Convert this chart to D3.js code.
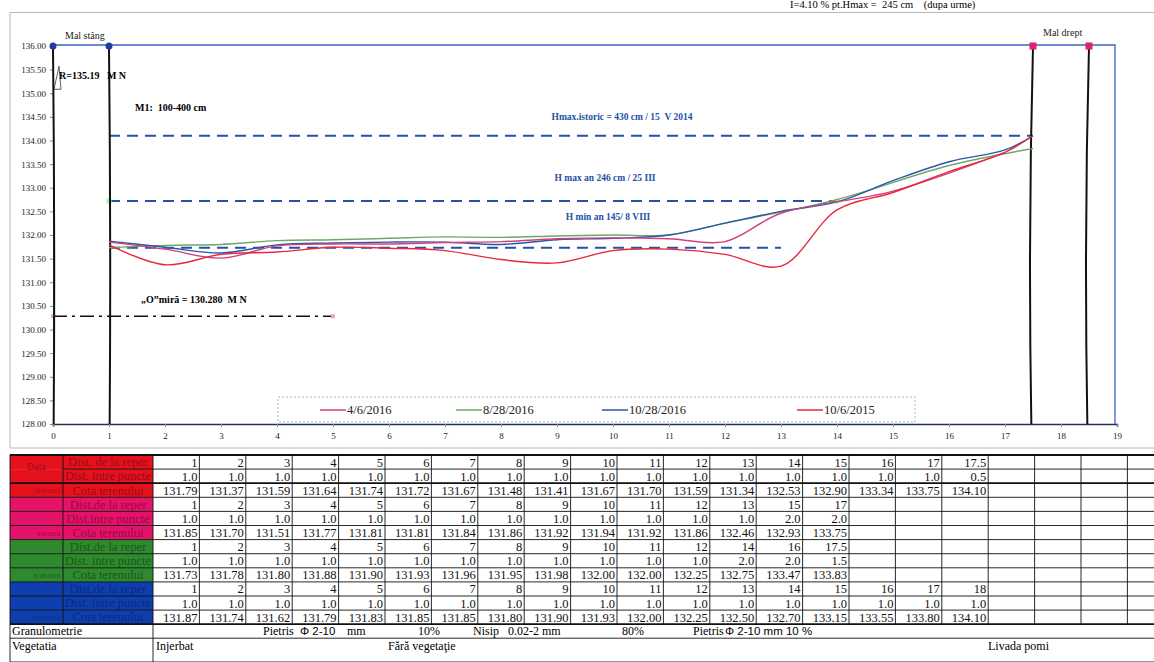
<!DOCTYPE html>
<html>
<head>
<meta charset="utf-8">
<script src="https://cdn.jsdelivr.net/npm/d3@7"></script>
<style>
body { margin: 0; background: #fff; }
svg { display: block; }
svg text { font-family: "Liberation Serif", "Times New Roman", serif; }
svg text.sans { font-family: "Liberation Sans", Arial, sans-serif; }
</style>
</head>
<body>
<svg id="chart" width="1154" height="662" font-family="Liberation Serif"></svg>
<script>
// ---- values read from the scanned profile ----
const dates = ["10/6/2015", "4/6/2016", "8/28/2016", "10/28/2016"];

const dist2015 = [1, 2, 3, 4, 5, 6, 7, 8, 9, 10, 11, 12, 13, 14, 15, 16, 17, 17.5];
const step2015 = [1.0, 1.0, 1.0, 1.0, 1.0, 1.0, 1.0, 1.0, 1.0, 1.0, 1.0, 1.0, 1.0, 1.0, 1.0, 1.0, 1.0, 0.5];
const cota2015 = [131.79, 131.37, 131.59, 131.64, 131.74, 131.72, 131.67, 131.48, 131.41, 131.67, 131.70, 131.59, 131.34, 132.53, 132.90, 133.34, 133.75, 134.10];

const distApr2016 = [1, 2, 3, 4, 5, 6, 7, 8, 9, 10, 11, 12, 13, 15, 17];
const stepApr2016 = [1.0, 1.0, 1.0, 1.0, 1.0, 1.0, 1.0, 1.0, 1.0, 1.0, 1.0, 1.0, 1.0, 2.0, 2.0];
const cotaApr2016 = [131.85, 131.70, 131.51, 131.77, 131.81, 131.81, 131.84, 131.86, 131.92, 131.94, 131.92, 131.86, 132.46, 132.93, 133.75];

const distAug2016 = [1, 2, 3, 4, 5, 6, 7, 8, 9, 10, 11, 12, 14, 16, 17.5];
const stepAug2016 = [1.0, 1.0, 1.0, 1.0, 1.0, 1.0, 1.0, 1.0, 1.0, 1.0, 1.0, 1.0, 2.0, 2.0, 1.5];
const cotaAug2016 = [131.73, 131.78, 131.80, 131.88, 131.90, 131.93, 131.96, 131.95, 131.98, 132.00, 132.00, 132.25, 132.75, 133.47, 133.83];

const distOct2016 = [1, 2, 3, 4, 5, 6, 7, 8, 9, 10, 11, 12, 13, 14, 15, 16, 17, 18];
const stepOct2016 = [1.0, 1.0, 1.0, 1.0, 1.0, 1.0, 1.0, 1.0, 1.0, 1.0, 1.0, 1.0, 1.0, 1.0, 1.0, 1.0, 1.0, 1.0];
const cotaOct2016 = [131.87, 131.74, 131.62, 131.79, 131.83, 131.85, 131.85, 131.80, 131.90, 131.93, 132.00, 132.25, 132.50, 132.70, 133.15, 133.55, 133.80, 134.10];

const bankLeft = [0, 1];
const bankRight = [17.5, 18.5];
const bankTop = 136;

// reference water levels: [label, level, from, to]
const levels = [
    ["Hmax.istoric = 430 cm / 15  V 2014", 134.10, 1, 17.5],
    ["H max an 246 cm / 25 III", 132.72, 1, 14],
    ["H min an 145/ 8 VIII", 131.73, 1, 13]
];
const zeroMira = 130.28;
const reperR = 135.19;

const xTickValues = d3.range(0, 20);
const yTickValues = d3.range(128, 136.01, 0.5);

const rowLabels = [
    ["Dist. de la reper", "Dist. intre puncte", "Cota terenului"],
    ["Dist.de la reper", "Dist.intre puncte", "Cota terenului"],
    ["Dist.de la reper", "Dist. intre puncte", "Cota terenului"],
    ["Dist.de la reper", "Dist. intre puncte", "Cota terenului"]
];

// ---- styles ----
const lineColor = {
    "10/6/2015": "#e8283c",
    "4/6/2016": "#d4407e",
    "8/28/2016": "#6fa865",
    "10/28/2016": "#2a58a8"
};
const cellFill = ["#e5121e", "#e5126a", "#2e8a2e", "#0f3fae"];
const cellText = ["#9c0a16", "#9a0846", "#1a581a", "#0a2a80"];

const svg = d3.select("#chart");
svg.append("rect").attr("width", 1154).attr("height", 662).attr("fill", "#fff");

const x = d3.scaleLinear().domain([0, 19]).range([53, 1117]);
const y = d3.scaleLinear().domain([128, 136]).range([424, 46]);

// outer frame of the chart object
svg.append("path")
    .attr("d", "M10,12.5H1154M10,12.5V448H1154")
    .attr("fill", "none").attr("stroke", "#b8b8b8").attr("stroke-width", 1);

svg.append("text")
    .attr("x", 790).attr("y", 8)
    .attr("font-size", 10.5)
    .attr("xml:space", "preserve")
    .text("I=4.10 % pt.Hmax =  245 cm    (dupa urme)");

// plot frame
svg.append("path")
    .attr("d", `M${x(0)},${y(136) - 1}H${x(19) - 2}V${y(128)}`)
    .attr("fill", "none").attr("stroke", "#3a66c4").attr("stroke-width", 1.3);

// axes
const yAxis = svg.append("g")
    .attr("transform", `translate(${x(0)},0)`)
    .call(d3.axisLeft(y).tickValues(yTickValues).tickFormat(d3.format(".2f")).tickSize(3));
yAxis.attr("font-family", null);
yAxis.select(".domain").attr("stroke", "#3a66c4");
yAxis.selectAll("text").attr("font-size", 9).attr("fill", "#222").attr("x", -7);
yAxis.selectAll("line").attr("stroke", "#888");

const xAxis = svg.append("g")
    .attr("transform", `translate(0,${y(128)})`)
    .call(d3.axisBottom(x).tickValues(xTickValues).tickFormat(d3.format("d")).tickSize(3));
xAxis.attr("font-family", null);
xAxis.select(".domain").attr("stroke", "#23324e").attr("stroke-width", 1.5);
xAxis.selectAll("text").attr("font-size", 9).attr("fill", "#222").attr("y", 9);
xAxis.selectAll("line").attr("stroke", "#888");

// legend box
const legend = svg.append("g");
legend.append("rect")
    .attr("x", 278).attr("y", 397).attr("width", 637).attr("height", 25)
    .attr("fill", "none").attr("stroke", "#9aa").attr("stroke-dasharray", "2,2").attr("stroke-width", 0.8);
const legendOrder = ["4/6/2016", "8/28/2016", "10/28/2016", "10/6/2015"];
const legendX = [320, 456, 602, 797];
legendOrder.forEach((name, i) => {
    legend.append("line")
        .attr("x1", legendX[i]).attr("x2", legendX[i] + 26)
        .attr("y1", 410).attr("y2", 410)
        .attr("stroke", lineColor[name]).attr("stroke-width", 1.5);
    legend.append("text")
        .attr("x", legendX[i] + 27).attr("y", 414)
        .attr("font-size", 12.5).attr("fill", "#222")
        .text(name);
});

// reference levels
const levelG = svg.append("g");
levels.forEach(([label, level, from, to]) => {
    levelG.append("line")
        .attr("x1", x(from)).attr("x2", x(to))
        .attr("y1", y(level)).attr("y2", y(level))
        .attr("stroke", "#2452a6").attr("stroke-width", 2)
        .attr("stroke-dasharray", "11,7");
});
const levelLabelPos = [[622, -16], [605, -20], [608, -28]];
levels.forEach(([label, level], i) => {
    levelG.append("text")
        .attr("x", levelLabelPos[i][0]).attr("y", y(level) + levelLabelPos[i][1])
        .attr("text-anchor", "middle")
        .attr("font-size", 9.5).attr("font-weight", "bold").attr("fill", "#2452a6")
        .attr("xml:space", "preserve")
        .text(label);
});
// small markers at the H max an line ends
[levels[1][2], levels[1][3]].forEach(d => {
    levelG.append("rect")
        .attr("x", x(d) - 2.5).attr("y", y(levels[1][1]) - 2.5)
        .attr("width", 5).attr("height", 5).attr("fill", "#b8f0b0");
});

// "O" mira line
svg.append("line")
    .attr("x1", x(0)).attr("x2", x(5))
    .attr("y1", y(zeroMira)).attr("y2", y(zeroMira))
    .attr("stroke", "#111").attr("stroke-width", 1.6)
    .attr("stroke-dasharray", "14,5,3,5");
[0, 5].forEach(d => {
    svg.append("rect")
        .attr("x", x(d) - 2).attr("y", y(zeroMira) - 2)
        .attr("width", 4).attr("height", 4).attr("fill", "#f0a0d0");
});
svg.append("text")
    .attr("x", 141).attr("y", 303)
    .attr("font-size", 10).attr("font-weight", "bold")
    .attr("xml:space", "preserve")
    .text("\u201EO\u201Dmir\u0103 = 130.280  M N");

// bank lines
const bankPath = (d, bow) => {
    const x0 = x(d), y0 = y(bankTop), y1 = y(128);
    return `M${x0},${y0}Q${x0 + bow},${(y0 + y1) / 2} ${x0 + bow / 3},${y1}`;
};
bankLeft.forEach(d => {
    svg.append("path").attr("d", bankPath(d, 2))
        .attr("fill", "none").attr("stroke", "#111").attr("stroke-width", 2);
    svg.append("circle").attr("cx", x(d)).attr("cy", y(bankTop)).attr("r", 3.5).attr("fill", "#1d3f9a");
});
bankRight.forEach(d => {
    svg.append("path").attr("d", bankPath(d, -5))
        .attr("fill", "none").attr("stroke", "#111").attr("stroke-width", 2);
    svg.append("rect").attr("x", x(d) - 3.5).attr("y", y(bankTop) - 3.5)
        .attr("width", 7).attr("height", 7).attr("fill", "#e0206a");
});

svg.append("text").attr("x", 65).attr("y", 39).attr("font-size", 10).attr("fill", "#222").text("Mal st\u00e2ng");
svg.append("text").attr("x", 1043).attr("y", 36).attr("font-size", 10).attr("fill", "#222").text("Mal drept");

// reper R marker
svg.append("path")
    .attr("d", `M${x(0) + 1},${y(reperR) + 5}L${x(0) + 6},${y(reperR) - 18}L${x(0) + 8},${y(reperR) + 5}Z`)
    .attr("fill", "none").attr("stroke", "#333").attr("stroke-width", 0.8);
svg.append("text")
    .attr("x", 59).attr("y", y(reperR) - 5)
    .attr("font-size", 10).attr("font-weight", "bold")
    .attr("xml:space", "preserve")
    .text("R=135.19   M N");
svg.append("text")
    .attr("x", 135).attr("y", 111)
    .attr("font-size", 10).attr("font-weight", "bold")
    .attr("xml:space", "preserve")
    .text("M1:  100-400 cm");

// terrain profiles
const series = [
    { name: "8/28/2016", dist: distAug2016, cota: cotaAug2016 },
    { name: "10/28/2016", dist: distOct2016, cota: cotaOct2016 },
    { name: "4/6/2016", dist: distApr2016, cota: cotaApr2016 },
    { name: "10/6/2015", dist: dist2015, cota: cota2015 }
];
// the profiles stop at the right bank
const line = d3.line()
    .x(d => x(Math.min(d[0], bankRight[0])))
    .y(d => y(d[1]))
    .curve(d3.curveCatmullRom.alpha(0.5));

svg.append("g").selectAll("path")
    .data(series)
    .join("path")
    .attr("d", s => line(d3.zip(s.dist, s.cota)))
    .attr("fill", "none")
    .attr("stroke", s => lineColor[s.name])
    .attr("stroke-width", 1.4);

// ---- data table ----
const table = svg.append("g");
const tTop = 455, rowH = 14.1, colA = 10, colB = 63, colN = 153, colW = 46.4, nCols = 22;
const groups = [
    { dist: dist2015, step: step2015, cota: cota2015 },
    { dist: distApr2016, step: stepApr2016, cota: cotaApr2016 },
    { dist: distAug2016, step: stepAug2016, cota: cotaAug2016 },
    { dist: distOct2016, step: stepOct2016, cota: cotaOct2016 }
];
const fmtDist = d => Number.isInteger(d) ? String(d) : d3.format(".1f")(d);
const fmts = [fmtDist, d3.format(".1f"), d3.format(".2f")];

groups.forEach((g, gi) => {
    const rows = [g.dist, g.step, g.cota];
    rows.forEach((vals, ri) => {
        const r = gi * 3 + ri;
        const ry = tTop + r * rowH;
        table.append("rect").attr("x", colA).attr("y", ry).attr("width", colN - colA).attr("height", rowH)
            .attr("fill", cellFill[gi]);
        const lbl = table.append("text")
            .attr("x", (colB + colN) / 2).attr("y", ry + rowH - 2.8)
            .attr("text-anchor", "middle").attr("font-size", 12.5).attr("fill", cellText[gi])
            .text(rowLabels[gi][ri]);
        if (lbl.node().getComputedTextLength() > colN - colB - 4) {
            lbl.attr("textLength", colN - colB - 4).attr("lengthAdjust", "spacingAndGlyphs");
        }
        vals.forEach((v, ci) => {
            table.append("text")
                .attr("x", colN + (ci + 1) * colW - 2).attr("y", ry + rowH - 2.6)
                .attr("text-anchor", "end").attr("font-size", 12.5).attr("fill", "#111")
                .text(fmts[ri](v));
        });
    });
    table.append("text")
        .attr("x", colB - 3).attr("y", tTop + (gi * 3 + 2) * rowH + rowH - 4)
        .attr("text-anchor", "end").attr("font-size", 6.5).attr("fill", cellText[gi])
        .text(dates[gi]);
});
table.append("text")
    .attr("x", (colA + colB) / 2).attr("y", tTop + rowH + 1)
    .attr("text-anchor", "middle").attr("font-size", 10).attr("fill", cellText[0])
    .text("Data");

// grid lines of the table
const tBottom = tTop + 12 * rowH;
const gridLines = table.append("g").attr("stroke", "#111").attr("fill", "none");
d3.range(0, 13).forEach(r => {
    const thick = r === 0 || r === 2 || r === 12;
    gridLines.append("line")
        .attr("x1", r === 1 ? colB : colA).attr("x2", 1154)
        .attr("y1", tTop + r * rowH).attr("y2", tTop + r * rowH)
        .attr("stroke-width", thick ? 1.8 : 0.9);
});
d3.range(0, nCols + 1).forEach(c => {
    gridLines.append("line")
        .attr("x1", colN + c * colW).attr("x2", colN + c * colW)
        .attr("y1", tTop).attr("y2", tBottom)
        .attr("stroke-width", 0.9);
});
[colA, colB].forEach(cx => {
    gridLines.append("line").attr("x1", cx).attr("x2", cx)
        .attr("y1", tTop).attr("y2", tBottom).attr("stroke-width", 0.9);
});
// granulometry and vegetation rows
const gY = tBottom, vY = tBottom + 14;
gridLines.append("line").attr("x1", colA).attr("x2", 1154).attr("y1", vY).attr("y2", vY).attr("stroke-width", 0.9);
gridLines.append("line").attr("x1", colA).attr("x2", 1154).attr("y1", 662).attr("y2", 662).attr("stroke-width", 0.9);
[colA, colN].forEach(cx => {
    gridLines.append("line").attr("x1", cx).attr("x2", cx).attr("y1", gY).attr("y2", 662).attr("stroke-width", 0.9);
});

const granu = [
    [12, "Granulometrie", ""],
    [263, "Pietris ", ""],
    [300, "\u03A6 2-10", "sans"],
    [347, "mm", ""],
    [418, "10%", ""],
    [473, "Nisip   0.02-2 mm", ""],
    [622, "80%", ""],
    [693, "Pietris", ""],
    [725, "\u03A6 2-10 mm 10 %", "sans"]
];
granu.forEach(([gx, t, f]) => {
    table.append("text")
        .attr("class", f)
        .attr("x", gx).attr("y", gY + 11)
        .attr("font-size", f === "sans" ? 11.5 : 12)
        .attr("xml:space", "preserve")
        .text(t);
});
const vege = [[12, "Vegetatia"], [156, "Injerbat"], [388, "F\u0103r\u0103 vegeta\u0163ie"], [988, "Livada pomi"]];
vege.forEach(([vx, t]) => {
    table.append("text")
        .attr("x", vx).attr("y", vY + 12)
        .attr("font-size", 12)
        .text(t);
});
</script>
</body>
</html>
